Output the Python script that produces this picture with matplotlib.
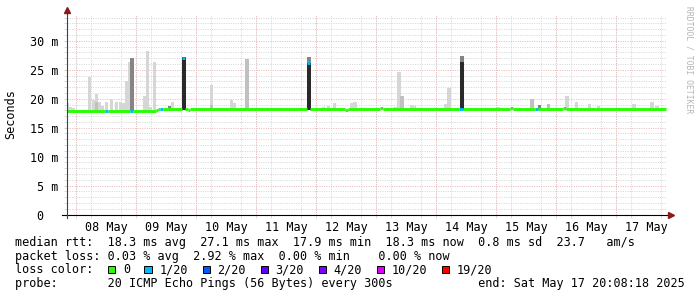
import matplotlib
matplotlib.use("Agg")
import matplotlib.pyplot as plt
import matplotlib.dates as mdates
from matplotlib.patches import Rectangle
import pandas as pd

end_time = "2025-05-17 20:08:18"
span_days = 10

# smoke: bin time, lowest / highest ping (ms), density level 1 (light) .. 4 (dark)
smoke_time = ["05-07 20:32", "05-07 21:40", "05-07 23:00", "05-08 05:27", "05-08 07:08",
              "05-08 08:15", "05-08 08:15", "05-08 09:20", "05-08 10:30", "05-08 12:15",
              "05-08 14:15", "05-08 16:15", "05-08 17:45", "05-08 18:55", "05-08 20:10",
              "05-08 21:15", "05-08 22:20", "05-09 03:20", "05-09 04:25", "05-09 05:35",
              "05-09 07:20", "05-09 13:27", "05-09 14:30", "05-09 19:08", "05-10 06:01",
              "05-10 06:01", "05-10 14:00", "05-10 15:10", "05-10 20:20", "05-11 21:08",
              "05-11 21:08", "05-12 02:56", "05-12 05:04", "05-12 07:20", "05-12 14:20",
              "05-12 15:30", "05-13 07:30", "05-13 09:08", "05-13 10:20", "05-13 14:00",
              "05-13 15:20", "05-14 03:52", "05-14 05:08", "05-14 10:20", "05-14 10:20",
              "05-15 01:00", "05-15 14:20", "05-15 17:20", "05-15 21:01", "05-16 04:20",
              "05-16 08:15", "05-16 13:28", "05-16 17:00", "05-17 07:08", "05-17 14:20",
              "05-17 16:20"]
smoke_low = [17.9] * 21 + [18.1] * 9 + [26.1] + [18.1] * 13 + [26.3] + [18.1] * 11
smoke_high = [19.2, 18.5, 18.4, 23.7, 19.8, 20.8, 19.4, 19.4, 18.8, 19.4,
              19.9, 19.4, 19.4, 19.3, 23.1, 26.4, 27.1, 20.4, 28.2, 18.5,
              26.4, 18.8, 19.4, 27.2, 22.4, 19.0, 19.8, 19.3, 26.9, 26.1,
              27.15, 18.5, 18.7, 19.2, 19.2, 19.4, 18.5, 24.7, 20.5, 18.9,
              18.7, 19.1, 21.8, 26.3, 27.4, 18.5, 19.9, 18.9, 19.1, 20.5,
              19.4, 19.1, 18.7, 19.1, 19.4, 18.7]
smoke_level = [1, 1, 1, 1, 1, 1, 2, 1, 1, 1,
               1, 1, 1, 1, 1, 1, 3, 1, 1, 1,
               1, 3, 1, 4, 1, 2, 1, 1, 2, 4,
               3, 1, 1, 1, 1, 1, 1, 1, 2, 1,
               1, 1, 1, 4, 3, 1, 2, 3, 2, 1,
               1, 1, 1, 1, 1, 1]

# median rtt: segment start, end, value (ms), loss class index
med_start = ["05-07 20:08", "05-08 11:44", "05-08 12:50", "05-08 21:44", "05-08 22:56",
             "05-09 07:46", "05-09 08:50", "05-09 09:44", "05-09 10:56", "05-09 18:32",
             "05-09 19:44", "05-09 20:50", "05-09 21:44", "05-11 20:32", "05-11 21:44",
             "05-12 11:44", "05-12 12:50", "05-13 01:44", "05-13 02:50", "05-14 09:04",
             "05-14 10:56", "05-15 05:44", "05-15 06:50", "05-15 15:44", "05-15 16:56",
             "05-16 02:56", "05-16 03:52"]
med_end = med_start[1:] + ["05-17 20:08"]
med_value = [17.95, 17.95, 17.95, 17.95, 17.95, 18.1, 18.25, 18.25, 18.25, 27.1,
             18.25, 18.05, 18.25, 26.2, 18.25, 18.05, 18.25, 18.45, 18.25, 18.25,
             18.25, 18.45, 18.25, 18.25, 18.25, 18.45, 18.25]
med_loss = [0, 1, 0, 1, 0, 0, 0, 1, 0, 1,
            0, 0, 0, 1, 0, 0, 0, 0, 0, 1,
            0, 0, 0, 1, 0, 0, 0]

loss_labels = ["0", "1/20", "2/20", "3/20", "4/20", "10/20", "19/20"]
loss_colors = ["#26ff00", "#00b8ff", "#0059ff", "#5e00ff", "#7e00ff", "#dd00ff", "#ff0000"]
smoke_colors = {1: "#d6d6d6", 2: "#c0c0c0", 3: "#858585", 4: "#2a2a2a"}

stats_lines = [
    "median rtt:  18.3 ms avg  27.1 ms max  17.9 ms min  18.3 ms now  0.8 ms sd  23.7   am/s",
    "packet loss: 0.03 % avg  2.92 % max  0.00 % min    0.00 % now",
    "loss color:",
    "probe:       20 ICMP Echo Pings (56 Bytes) every 300s            end: Sat May 17 20:08:18 2025",
]

plt.rcParams["font.family"] = "DejaVu Sans Mono"
FS = 8.5
W, H = 697, 297


def when(s):
    return mdates.date2num(pd.Timestamp("2025-" + s))


fig = plt.figure(figsize=(W / 100, H / 100), dpi=100)
fig.patch.set_facecolor("white")
ax = fig.add_axes([66.5 / W, 82.5 / H, 600 / W, 200 / H])

t_end = pd.Timestamp(end_time)
t_start = t_end - pd.Timedelta(days=span_days)
ax.set_xlim(mdates.date2num(t_start), mdates.date2num(t_end))
ax.set_ylim(0, 34.55)

# grid
grid_gray = "#d4d4d4"
grid_red = "#e6b6b6"
dots = (0, (1.0, 1.4))
ax.set_yticks(range(0, 31, 5))
ax.set_yticks(range(1, 35), minor=True)
ax.set_yticklabels(["0  "] + ["%d m" % v for v in range(5, 31, 5)])
noons = pd.date_range("2025-05-08 12:00", "2025-05-17 12:00", freq="D")
ax.set_xticks(mdates.date2num(noons))
ax.set_xticklabels([d.strftime("%d %b") for d in noons])
six_hours = pd.date_range("2025-05-08 00:00", "2025-05-17 18:00", freq="6h")
ax.set_xticks(mdates.date2num(six_hours), minor=True)
ax.grid(which="minor", axis="both", color=grid_gray, lw=0.7, linestyle=dots)
ax.grid(which="major", axis="y", color=grid_red, lw=0.7, linestyle=dots)
for d in pd.date_range("2025-05-08", "2025-05-17", freq="D"):
    ax.axvline(mdates.date2num(d), color=grid_red, lw=0.7, linestyle=dots, zorder=0.6)
ax.set_axisbelow(True)

ax.tick_params(axis="x", which="major", length=0, pad=4.5, labelsize=FS)
ax.tick_params(axis="x", which="minor", length=2, color=grid_gray, direction="out")
ax.tick_params(axis="y", which="both", length=2, color=grid_gray, pad=3.5, labelsize=FS)
for s in ax.spines.values():
    s.set_visible(False)

# smoke
for t, lo, hi, lv in zip(smoke_time, smoke_low, smoke_high, smoke_level):
    ax.bar(when(t), hi - lo, bottom=lo, width=78 / 1440, color=smoke_colors[lv],
           linewidth=0, zorder=2)

# median line coloured by loss
for a, b, v, l in zip(med_start, med_end, med_value, med_loss):
    ax.hlines(v, when(a), when(b), colors=loss_colors[l], lw=2.1, zorder=3)

# axes with arrows
ax.plot([-0.008, 1.006], [0, 0], color="black", lw=0.8, transform=ax.transAxes,
        clip_on=False, zorder=5)
ax.plot([0, 0], [-0.015, 1.02], color="#404040", lw=0.8, transform=ax.transAxes,
        clip_on=False, zorder=5)
ax.plot([1.0075], [0], marker=">", ms=4.5, color="#8b1a1a", transform=ax.transAxes,
        clip_on=False, zorder=6)
ax.plot([0], [1.025], marker="^", ms=4.5, color="#8b1a1a", transform=ax.transAxes,
        clip_on=False, zorder=6)

fig.text(10.5 / W, 1 - 114 / H, "Seconds", rotation=90, fontsize=FS,
         ha="center", va="center")
fig.text(689 / W, 1 - 60 / H, "RRDTOOL / TOBI OETIKER", rotation=270, fontsize=5.8,
         color="#b4b4b4", ha="center", va="center")

# legend block
x0 = 14.7
baselines = [246, 259.7, 273.3, 287]
for txt, yb in zip(stats_lines, baselines):
    fig.text(x0 / W, 1 - yb / H, txt, fontsize=FS, ha="left", va="baseline")

char_w = 7.12
cursor = x0 + 13 * char_w + 0.5
box = 7.3
for lab, col in zip(loss_labels, loss_colors):
    fig.add_artist(Rectangle((cursor / W, 1 - (269.7 + box / 2) / H), box / W, box / H,
                             transform=fig.transFigure, facecolor=col,
                             edgecolor="black", lw=0.7))
    fig.text((cursor + 15) / W, 1 - baselines[2] / H, lab, fontsize=FS,
             ha="left", va="baseline")
    cursor += 15 + len(lab) * char_w + 14.6

fig.savefig("out.png", dpi=100)
